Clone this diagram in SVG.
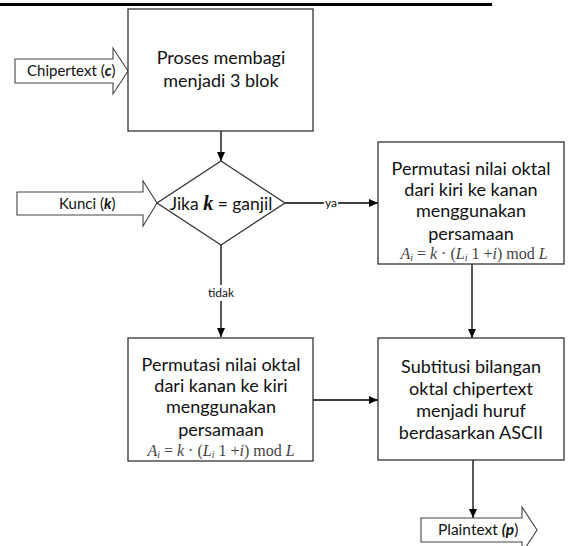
<svg xmlns="http://www.w3.org/2000/svg" width="568" height="546" viewBox="0 0 568 546">
  <defs>
    <marker id="ah" markerUnits="userSpaceOnUse" markerWidth="9" markerHeight="8" refX="9" refY="4" orient="auto">
      <path d="M0,0 L9,4 L0,8 z" fill="#000"/>
    </marker>
    <style>
      .box { fill: #fff; stroke: #333; stroke-width: 1.3; }
      .blk { fill: #fff; stroke: #444; stroke-width: 1.1; }
      .t { font-family: Lato, "Liberation Sans", sans-serif; font-size: 18px; fill: #111; text-anchor: middle; }
      .s { font-family: Lato, "Liberation Sans", sans-serif; font-size: 15px; fill: #111; }
      .lbl { font-family: Lato, "Liberation Sans", sans-serif; font-size: 12px; fill: #111; text-anchor: middle; }
      .f { font-family: "Liberation Serif", serif; font-style: italic; font-size: 16px; fill: #444; text-anchor: middle; }
      .up { font-style: normal; }
      .bi { font-weight: bold; font-style: italic; }
      .line { fill: none; stroke: #000; stroke-width: 1.3; }
    </style>
  </defs>

  <rect x="0" y="3" width="492" height="3" fill="#000"/>

  <g id="connectors">
    <path class="line" d="M221,131 V161" marker-end="url(#ah)"/>
    <path class="line" d="M285,203 H378" marker-end="url(#ah)"/>
    <path class="line" d="M221,245 V337" marker-end="url(#ah)"/>
    <path class="line" d="M472,264 V338" marker-end="url(#ah)"/>
    <path class="line" d="M313,400 H378" marker-end="url(#ah)"/>
    <path class="line" d="M473,460 V518" marker-end="url(#ah)"/>
    <rect x="324" y="196" width="14" height="13" fill="#fff"/>
    <text class="lbl" x="331" y="207">ya</text>
    <rect x="206" y="285" width="30" height="16" fill="#fff"/>
    <text class="lbl" x="221" y="297">tidak</text>
  </g>

  <g id="chipertext">
    <polygon class="blk" points="15,59 113,59 113,48 128,71 113,94 113,83 15,83"/>
    <text class="s" x="27" y="76">Chipertext (<tspan class="bi">c</tspan>)</text>
  </g>

  <g id="proses">
    <rect class="box" x="128" y="9" width="185" height="122"/>
    <text class="t" x="221" y="64">Proses membagi</text>
    <text class="t" x="221" y="87">menjadi 3 blok</text>
  </g>

  <g id="kunci">
    <polygon class="blk" points="17,192 143,192 143,181 157,203 143,226 143,215 17,215"/>
    <text class="s" x="59" y="209">Kunci (<tspan class="bi">k</tspan>)</text>
  </g>

  <g id="decision">
    <polygon class="box" points="221,161 285,203 221,245 157,203"/>
    <text class="t" x="221" y="210" style="font-size:17.5px">Jika <tspan style="font-family:'Liberation Serif',serif;font-weight:bold;font-style:italic;font-size:20px">k</tspan> = ganjil</text>
  </g>

  <g id="permutasi-kiri-kanan">
    <rect class="box" x="378" y="142" width="186" height="122"/>
    <text class="t" x="471" y="175">Permutasi nilai oktal</text>
    <text class="t" x="471" y="196">dari kiri ke kanan</text>
    <text class="t" x="471" y="217">menggunakan</text>
    <text class="t" x="471" y="240">persamaan</text>
    <text class="f" x="474" y="259">A<tspan font-size="10" dy="2">i</tspan><tspan dy="-2"> <tspan class="up">=</tspan> k <tspan class="up">· (</tspan>L</tspan><tspan font-size="10" dy="2">i</tspan><tspan dy="-2"> <tspan class="up">1 +</tspan>i<tspan class="up">) mod</tspan> L</tspan></text>
  </g>

  <g id="permutasi-kanan-kiri">
    <rect class="box" x="128" y="338" width="185" height="123"/>
    <text class="t" x="221" y="371">Permutasi nilai oktal</text>
    <text class="t" x="221" y="392">dari kanan ke kiri</text>
    <text class="t" x="221" y="413">menggunakan</text>
    <text class="t" x="221" y="436">persamaan</text>
    <text class="f" x="221" y="456">A<tspan font-size="10" dy="2">i</tspan><tspan dy="-2"> <tspan class="up">=</tspan> k <tspan class="up">· (</tspan>L</tspan><tspan font-size="10" dy="2">i</tspan><tspan dy="-2"> <tspan class="up">1 +</tspan>i<tspan class="up">) mod</tspan> L</tspan></text>
  </g>

  <g id="subtitusi">
    <rect class="box" x="378" y="338" width="186" height="122"/>
    <text class="t" x="471" y="373">Subtitusi bilangan</text>
    <text class="t" x="471" y="395">oktal chipertext</text>
    <text class="t" x="471" y="417">menjadi huruf</text>
    <text class="t" x="471" y="439">berdasarkan ASCII</text>
  </g>

  <g id="plaintext">
    <polygon class="blk" points="421,518 522,518 522,507 537,530 522,553 522,542 421,542"/>
    <text class="s" x="438" y="535" style="font-size:15.5px">Plaintext <tspan class="bi">(p</tspan>)</text>
  </g>
</svg>
